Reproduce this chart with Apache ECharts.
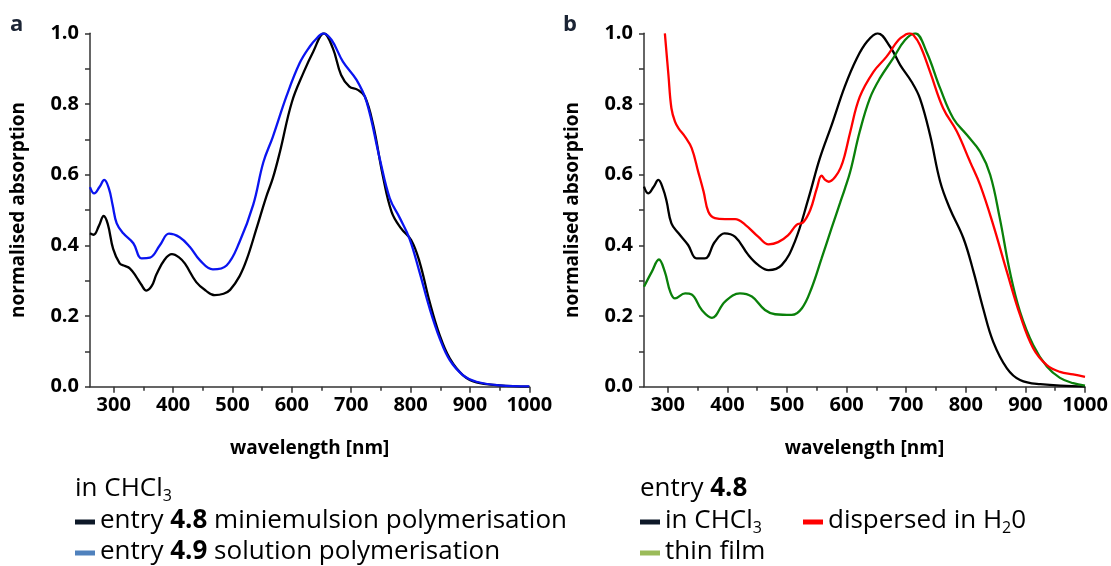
<!DOCTYPE html>
<html>
<head>
<meta charset="utf-8">
<script src="https://cdn.jsdelivr.net/npm/echarts@6/dist/echarts.min.js"></script>
<style>
  html, body { margin: 0; padding: 0; background: #fff; }
  #chart { width: 1111px; height: 566px; }
</style>
</head>
<body>
<div id="chart"></div>
<script>
// ---- axis ticks ----
const xTicks = [300, 400, 500, 600, 700, 800, 900, 1000];
const xMinorTicks = [350, 450, 550, 650, 750, 850, 950];
const yTicks = [0, 0.2, 0.4, 0.6, 0.8, 1.0];

// ---- panel a: in CHCl3 ----
// entry 4.8, miniemulsion polymerisation
const aMiniWl = [260, 266, 275, 283, 290, 299, 310, 318, 327, 338, 346, 355, 364, 372, 385, 398, 410, 420, 439, 455, 470, 485, 496, 512, 524, 540, 557, 568, 580, 600, 620, 636, 654, 669, 683, 697, 711, 723, 737, 753, 768, 784, 801, 815, 832, 849, 866, 888, 911, 950, 1000];
const aMiniAbs = [0.434, 0.43, 0.455, 0.483, 0.46, 0.39, 0.349, 0.342, 0.335, 0.311, 0.29, 0.272, 0.285, 0.318, 0.358, 0.375, 0.366, 0.348, 0.296, 0.272, 0.259, 0.263, 0.274, 0.313, 0.36, 0.445, 0.538, 0.59, 0.665, 0.805, 0.89, 0.948, 1.0, 0.958, 0.882, 0.849, 0.84, 0.821, 0.741, 0.599, 0.495, 0.448, 0.415, 0.354, 0.241, 0.146, 0.08, 0.033, 0.012, 0.004, 0.0];
// entry 4.9, solution polymerisation
const aSolWl = [260, 267, 276, 284, 292, 298, 305, 316, 333, 347, 361, 378, 393, 411, 428, 445, 467, 490, 512, 535, 552, 568, 591, 613, 630, 642, 653, 667, 686, 709, 726, 748, 765, 782, 798, 815, 832, 849, 866, 888, 911, 950, 1000];
const aSolAbs = [0.565, 0.547, 0.565, 0.585, 0.56, 0.515, 0.462, 0.434, 0.406, 0.363, 0.365, 0.401, 0.433, 0.423, 0.396, 0.358, 0.332, 0.343, 0.41, 0.515, 0.635, 0.707, 0.822, 0.915, 0.962, 0.986, 1.0, 0.981, 0.92, 0.868, 0.806, 0.646, 0.533, 0.477, 0.42, 0.325, 0.222, 0.137, 0.075, 0.033, 0.014, 0.004, 0.001];

// ---- panel b: entry 4.8 ----
// in CHCl3
const bChclWl = [260, 267, 276, 284, 292, 298, 306, 318, 334, 348, 362, 379, 395, 413, 435, 452, 469, 491, 513, 536, 555, 575, 597, 617, 635, 652, 673, 690, 709, 723, 740, 757, 773, 796, 813, 829, 846, 869, 891, 925, 1000];
const bChclAbs = [0.566, 0.547, 0.565, 0.585, 0.56, 0.524, 0.462, 0.434, 0.401, 0.363, 0.363, 0.41, 0.434, 0.424, 0.373, 0.344, 0.33, 0.344, 0.41, 0.533, 0.646, 0.741, 0.85, 0.929, 0.978, 1.0, 0.962, 0.91, 0.863, 0.816, 0.712, 0.58, 0.505, 0.42, 0.325, 0.222, 0.127, 0.052, 0.019, 0.007, 0.0];
// dispersed in water
const bWaterWl = [295, 301, 306, 312, 318, 329, 340, 351, 360, 368, 379, 396, 413, 430, 452, 469, 485, 502, 516, 527, 539, 550, 558, 564, 570, 581, 590, 597, 606, 622, 645, 667, 687, 700, 706, 712, 723, 740, 762, 785, 807, 824, 846, 869, 891, 913, 936, 958, 980, 1000];
const bWaterAbs = [1.0, 0.882, 0.788, 0.75, 0.731, 0.707, 0.675, 0.608, 0.552, 0.495, 0.477, 0.474, 0.474, 0.458, 0.424, 0.403, 0.409, 0.429, 0.458, 0.465, 0.5, 0.561, 0.597, 0.585, 0.58, 0.594, 0.62, 0.656, 0.72, 0.82, 0.891, 0.934, 0.981, 0.997, 1.0, 0.995, 0.967, 0.891, 0.788, 0.722, 0.637, 0.571, 0.458, 0.325, 0.203, 0.109, 0.061, 0.042, 0.035, 0.028];
// thin film
const bFilmWl = [260, 273, 285, 295, 304, 312, 329, 340, 357, 374, 396, 421, 441, 463, 480, 508, 525, 541, 558, 575, 589, 597, 606, 622, 639, 656, 678, 698, 715, 734, 757, 779, 802, 824, 841, 857, 874, 891, 913, 936, 958, 980, 1000];
const bFilmAbs = [0.283, 0.325, 0.36, 0.325, 0.269, 0.25, 0.264, 0.261, 0.217, 0.195, 0.241, 0.264, 0.255, 0.217, 0.205, 0.203, 0.222, 0.278, 0.363, 0.45, 0.52, 0.56, 0.608, 0.722, 0.816, 0.873, 0.929, 0.981, 1.0, 0.948, 0.844, 0.759, 0.712, 0.665, 0.599, 0.477, 0.325, 0.212, 0.118, 0.057, 0.025, 0.01, 0.003];

const FONT = '"Open Sans", "DejaVu Sans", sans-serif';
const AXIS_COLOR = '#333';
const TICK_FONT = 20;
const NAME_FONT = 19;

function pairs(xs, ys) { return xs.map((x, i) => [x, ys[i]]); }

function mainX(gridIndex) {
  return {
    type: 'value', gridIndex, position: 'bottom', min: 260, max: 1000,
    name: 'wavelength [nm]', nameLocation: 'middle', nameGap: 52,
    nameTextStyle: { fontFamily: FONT, fontWeight: 'bold', fontSize: NAME_FONT, color: '#000' },
    axisLine: { show: true, onZero: false, lineStyle: { color: AXIS_COLOR, width: 1.5 } },
    axisTick: { show: true, customValues: xTicks, length: 6, lineStyle: { color: AXIS_COLOR, width: 1.5 } },
    axisLabel: { customValues: xTicks, fontFamily: FONT, fontWeight: 'bold', fontSize: TICK_FONT, color: '#000',
      margin: 9, formatter: v => String(v) },
    splitLine: { show: false }
  };
}
function minorX(gridIndex) {
  return {
    type: 'value', gridIndex, position: 'bottom', min: 260, max: 1000,
    axisLine: { show: false },
    axisTick: { show: true, customValues: xMinorTicks, length: 4, lineStyle: { color: AXIS_COLOR, width: 1.5 } },
    axisLabel: { show: false },
    splitLine: { show: false }
  };
}
function mainY(gridIndex) {
  return {
    type: 'value', gridIndex, min: 0, max: 1, interval: 0.2,
    name: 'normalised absorption', nameLocation: 'middle', nameGap: 62,
    nameTextStyle: { fontFamily: FONT, fontWeight: 'bold', fontSize: NAME_FONT, color: '#000' },
    axisLine: { show: true, onZero: false, lineStyle: { color: AXIS_COLOR, width: 1.5 } },
    axisTick: { show: true, length: 5, lineStyle: { color: AXIS_COLOR, width: 1.5 } },
    minorTick: { show: true, splitNumber: 2, length: 5, lineStyle: { color: AXIS_COLOR, width: 1.5 } },
    axisLabel: { fontFamily: FONT, fontWeight: 'bold', fontSize: TICK_FONT, color: '#000', margin: 11,
      customValues: yTicks, formatter: v => v.toFixed(1) },
    splitLine: { show: false }, minorSplitLine: { show: false }
  };
}
function curve(name, xs, ys, color, xi, yi) {
  return {
    type: 'line', name, data: pairs(xs, ys), xAxisIndex: xi, yAxisIndex: yi,
    showSymbol: false, smooth: 0.4,
    lineStyle: { color, width: 2.3 }, itemStyle: { color }, z: 3
  };
}

// legend text helpers
const LEG = 26;
const LINE_H = 30;
const rich = {
  b:   { fontFamily: FONT, fontSize: LEG, fontWeight: 'bold', fill: '#000', lineHeight: LINE_H },
  sub: { fontFamily: FONT, fontSize: 16, fill: '#000', lineHeight: 11, verticalAlign: 'bottom' }
};
function legText(x, y, text) {
  return { type: 'text', x, y, z: 10,
    style: { text, rich, fontFamily: FONT, fontSize: LEG, fill: '#000', lineHeight: LINE_H,
             align: 'left', verticalAlign: 'middle' } };
}
function swatch(x, y, color) {
  return { type: 'rect', z: 10, shape: { x, y: y - 2.5, width: 20, height: 5 }, style: { fill: color } };
}

const chart = echarts.init(document.getElementById('chart'), null, { renderer: 'canvas' });
chart.setOption({
  animation: false,
  backgroundColor: '#fff',
  grid: [
    { left: 90, top: 33.3, width: 439.3, height: 353.4 },
    { left: 644, top: 33.3, width: 441, height: 353.4 }
  ],
  xAxis: [mainX(0), minorX(0), mainX(1), minorX(1)],
  yAxis: [mainY(0), mainY(1)],
  series: [
    curve('entry 4.8 miniemulsion polymerisation', aMiniWl, aMiniAbs, '#000000', 0, 0),
    curve('entry 4.9 solution polymerisation', aSolWl, aSolAbs, '#0a14f0', 0, 0),
    curve('in CHCl3', bChclWl, bChclAbs, '#000000', 2, 1),
    curve('thin film', bFilmWl, bFilmAbs, '#0a800a', 2, 1),
    curve('dispersed in H20', bWaterWl, bWaterAbs, '#ff0000', 2, 1)
  ],
  graphic: [
    { type: 'text', x: 10, y: 25, z: 10, style: { text: 'a', fontFamily: FONT, fontWeight: 'bold', fontSize: 22, fill: '#1b2434', verticalAlign: 'middle' } },
    { type: 'text', x: 563, y: 25, z: 10, style: { text: 'b', fontFamily: FONT, fontWeight: 'bold', fontSize: 22, fill: '#1b2434', verticalAlign: 'middle' } },

    legText(75, 489, 'in CHCl{sub|3}'),
    swatch(75, 522, '#0d1828'),
    legText(100, 521, 'entry {b|4.8} miniemulsion polymerisation'),
    swatch(75, 553, '#4f81bd'),
    legText(100, 552, 'entry {b|4.9} solution polymerisation'),

    legText(640, 489, 'entry {b|4.8}'),
    swatch(640, 522, '#0d1828'),
    legText(665, 521, 'in CHCl{sub|3}'),
    swatch(803, 522, '#ff0000'),
    legText(828, 521, 'dispersed in H{sub|2}0'),
    swatch(640, 553, '#9bbb59'),
    legText(665, 552, 'thin film')
  ]
});
</script>
</body>
</html>
